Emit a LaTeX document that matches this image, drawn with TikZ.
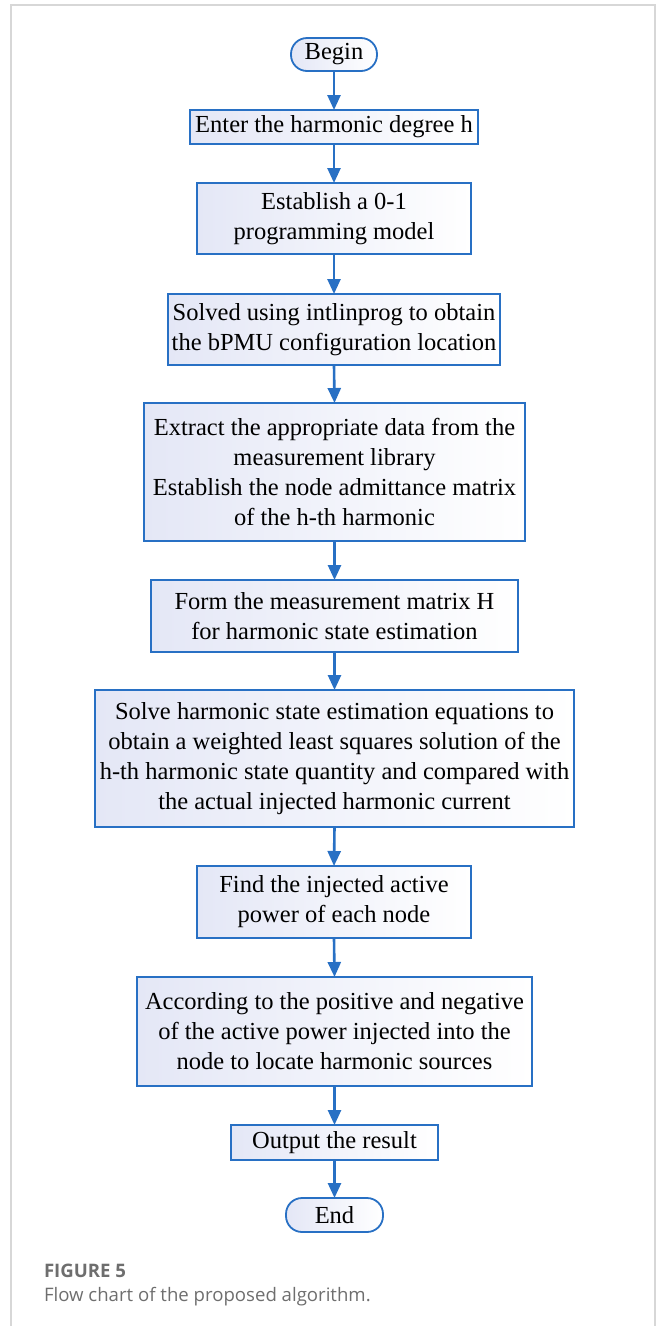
\documentclass[tikz,border=0pt]{standalone}
\usepackage{fontspec}
\setmainfont{Liberation Serif}
\newfontfamily\capfont{Open Sans}
\usetikzlibrary{arrows.meta,shapes.misc}
\definecolor{bblue}{RGB}{40,112,196}
\definecolor{lav}{RGB}{228,231,246}
\definecolor{capgray}{RGB}{110,110,110}
\definecolor{framegray}{RGB}{215,215,215}
\begin{document}
\begin{tikzpicture}[x=1pt,y=-1pt,
  every node/.style={inner sep=0pt,outer sep=0pt},
  procbox/.style={draw=bblue,line width=1.8pt,left color=lav,right color=white,
    align=center,font=\fontsize{24.5}{30}\selectfont},
  termbox/.style={procbox,rounded corners=16pt},
  flow/.style={draw=bblue,line width=2.6pt,-{Triangle[length=15pt,width=13pt]}}]
\useasboundingbox (0,0) rectangle (656,1326);
\draw[framegray,line width=1.5pt] (11,1326) -- (11,5) -- (655,5) -- (655,1326);
\node[termbox,minimum width=86pt,minimum height=33pt] (begin) at (334,54.5) {Begin};
\node[procbox,minimum width=288pt,minimum height=34pt] (enter) at (334,127) {Enter the harmonic degree h};
\node[procbox,minimum width=274pt,minimum height=71pt] (estab) at (334,218.5) {Establish a 0-1\\programming model};
\node[procbox,minimum width=332pt,minimum height=71pt] (solved) at (334,329.5) {Solved using intlinprog to obtain\\the bPMU configuration location};
\node[procbox,minimum width=381pt,minimum height=138pt] (extract) at (334.5,472) {Extract the appropriate data from the\\measurement library\\Establish the node admittance matrix\\of the h-th harmonic};
\node[procbox,minimum width=367pt,minimum height=72pt] (form) at (334.5,616) {Form the measurement matrix H\\for harmonic state estimation};
\node[procbox,minimum width=479pt,minimum height=137pt] (solve) at (334.5,758.5) {Solve harmonic state estimation equations to\\obtain a weighted least squares solution of the\\h-th harmonic state quantity and compared with\\the actual injected harmonic current};
\node[procbox,minimum width=274pt,minimum height=72pt] (find) at (334,902) {Find the injected active\\power of each node};
\node[procbox,minimum width=395pt,minimum height=109pt] (accord) at (334.5,1031.5) {According to the positive and negative\\of the active power injected into the\\node to locate harmonic sources};
\node[procbox,minimum width=207pt,minimum height=35pt] (output) at (334.5,1142.5) {Output the result};
\node[termbox,minimum width=97pt,minimum height=34pt] (end) at (334.5,1215) {End};
\foreach \a/\b in {begin/enter,enter/estab,estab/solved,solved/extract,extract/form,form/solve,solve/find,find/accord,accord/output,output/end}
  \draw[flow] (\a.south) -- (\b.north);
\node[anchor=base west,font=\capfont\bfseries\fontsize{18.6}{22}\selectfont,text=capgray] (figlabel) at (44,1277) {FIGURE 5};
\node[anchor=base west,font=\capfont\fontsize{18.6}{22}\selectfont,text=capgray] (figcap) at (44,1301) {Flow chart of the proposed algorithm.};
\end{tikzpicture}
\end{document}
